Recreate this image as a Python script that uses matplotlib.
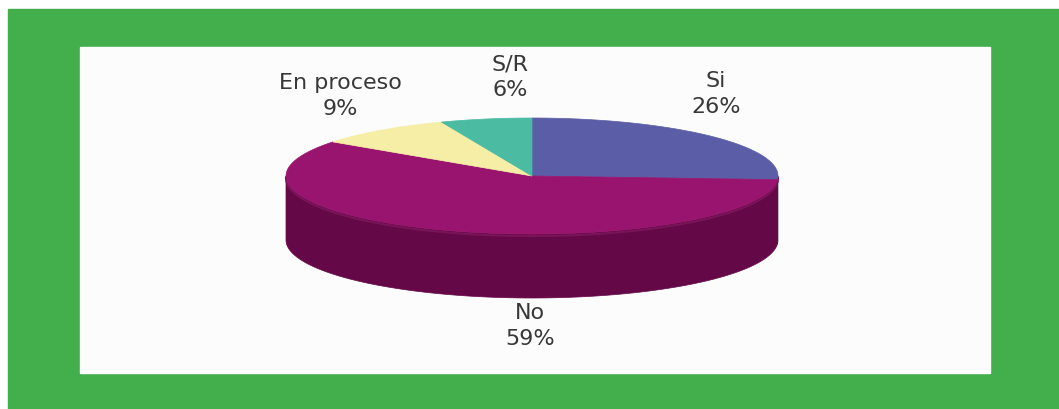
import numpy as np
import matplotlib.pyplot as plt
from matplotlib.patches import Polygon, Rectangle

labels = ['Si', 'No', 'En proceso', 'S/R']
values = [26, 59, 9, 6]
colors = ['#5b5ea6', '#99146f', '#f6eea6', '#4bbba2']
side_colors = ['#3d3f70', '#650848', '#a8a070', '#327d6c']
# label anchor (pixel) for each slice
label_pos = [(716, 94), (530, 326), (340, 96), (510, 77)]

W, H = 1059, 409
fig = plt.figure(figsize=(W / 100, H / 100), dpi=100)
ax = fig.add_axes([0, 0, 1, 1])
ax.set_xlim(0, W)
ax.set_ylim(H, 0)
ax.axis('off')
fig.patch.set_facecolor('white')

# marco verde y fondo blanco
ax.add_patch(Rectangle((8, 9), W - 8, H - 9, color='#42ae4c', zorder=0))
ax.add_patch(Rectangle((80, 47), 910, 326, color='#fbfcfb', zorder=1))

cx, cy = 532, 176
rx, ry = 246, 58
depth = 64


def pt(a):
    return cx + rx * np.cos(a), cy - ry * np.sin(a)


# angulos (sentido horario desde las 12)
fr = np.array(values) / sum(values)
starts = np.pi / 2 - 2 * np.pi * np.concatenate([[0], np.cumsum(fr)[:-1]])
ends = starts - 2 * np.pi * fr

# caras laterales (solo la mitad frontal)
for s, e, c in zip(starts, ends, side_colors):
    lo, hi = min(s, e), max(s, e)
    for k in range(-2, 2):
        a0 = max(lo, np.pi + 2 * np.pi * k)
        a1 = min(hi, 2 * np.pi + 2 * np.pi * k)
        if a1 <= a0:
            continue
        t = np.linspace(a0, a1, 200)
        x, y = pt(t)
        xs = np.concatenate([x, x[::-1]])
        ys = np.concatenate([y, y[::-1] + depth])
        ax.add_patch(Polygon(np.column_stack([xs, ys]), closed=True,
                             facecolor=c, edgecolor=c, lw=0.5, zorder=2))
        # borde claro bajo la tapa
        ax.plot(x, y + 2, color='#7a1458', lw=1.5, zorder=2.5)

# tapa superior
for s, e, c in zip(starts, ends, colors):
    t = np.linspace(s, e, 300)
    x, y = pt(t)
    xs = np.concatenate([[cx], x])
    ys = np.concatenate([[cy], y])
    ax.add_patch(Polygon(np.column_stack([xs, ys]), closed=True,
                         facecolor=c, edgecolor=c, lw=0.5, zorder=3))

for lab, v, (x, y) in zip(labels, values, label_pos):
    ax.text(x, y, f'{lab}\n{v}%', ha='center', va='center', fontsize=16,
            color='#383838', linespacing=1.35, zorder=4)

fig.savefig('out.png', dpi=100)
